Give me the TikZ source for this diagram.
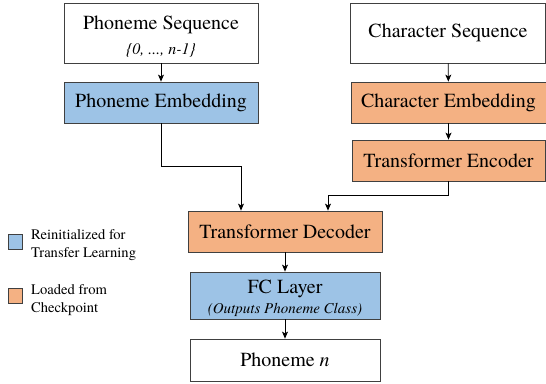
\documentclass[tikz,border=0pt]{standalone}
\usepackage{fontspec}
\setmainfont{texgyretermes}[Extension=.otf,UprightFont=*-regular,ItalicFont=*-italic,BoldFont=*-bold]
\usepackage{xcolor}
\usepackage{tikz}
\usetikzlibrary{positioning,arrows.meta}
\definecolor{reinit}{HTML}{9DC3E6}
\definecolor{loaded}{HTML}{F4B183}
\definecolor{edge}{HTML}{404040}

\begin{document}
\begin{tikzpicture}[x=1pt,y=-1pt,>={Stealth[length=7pt,width=6pt,inset=1.8pt]},
		block/.style={draw=edge,line width=0.8pt,inner sep=0pt,align=center,font=\fontsize{20}{24}\selectfont},
		key/.style={draw=edge,line width=0.8pt,minimum width=14pt,minimum height=15pt,inner sep=0pt},
		keytext/.style={anchor=west,inner sep=0pt,align=left,font=\fontsize{14.6}{18}\selectfont},
		flow/.style={->,black,line width=0.8pt}]
			\useasboundingbox (0,0) rectangle (546,383);

			\node[block,minimum width=194pt,minimum height=60pt] (pseq) at (161,33) {\rule{0pt}{20pt}Phoneme Sequence\\[1pt]{\fontsize{16}{18}\selectfont\itshape\{0, ..., n-1\}}};
			\node[block,minimum width=195pt,minimum height=60pt] (cseq) at (448,33) {Character Sequence};
			\node[block,fill=reinit,minimum width=194pt,minimum height=41pt] (pemb) at (161,102.5) {Phoneme Embedding};
			\node[block,fill=loaded,minimum width=195pt,minimum height=41pt] (cemb) at (448.5,102.5) {Character Embedding};
			\node[block,fill=loaded,minimum width=193pt,minimum height=41pt] (enc) at (448.5,160.5) {Transformer Encoder};
			\node[block,fill=loaded,minimum width=194pt,minimum height=41pt] (dec) at (285,231.5) {Transformer Decoder};
			\node[block,fill=reinit,minimum width=190pt,minimum height=47pt] (fc) at (285,295.5) {\rule{0pt}{19pt}FC Layer\\[-4pt]{\fontsize{15}{18}\selectfont\itshape(Outputs Phoneme Class)}};
			\node[block,minimum width=190pt,minimum height=42pt] (out) at (285,360) {Phoneme \textit{n}};

			% legend
			\node[key,fill=reinit] (kreinit) at (15.5,242) {};
			\node[keytext] (treinit) at (31,245) {Reinitialized for\\Transfer Learning};
			\node[key,fill=loaded] (kloaded) at (15.5,296) {};
			\node[keytext] (tloaded) at (31,300) {Loaded from\\Checkpoint};

			\draw[flow] (pseq) -- (pemb);
			\draw[flow] (cseq) -- (cemb);
			\draw[flow] (cemb) -- (enc);
			\draw[flow] (pemb.south) -- ++(0,43) -| ([xshift=-44pt]dec.north);
			\draw[flow] (enc.south) -- ++(0,14) -| ([xshift=43pt]dec.north);
			\draw[flow] (dec) -- (fc);
			\draw[flow] (fc) -- (out);
\end{tikzpicture}
\end{document}
